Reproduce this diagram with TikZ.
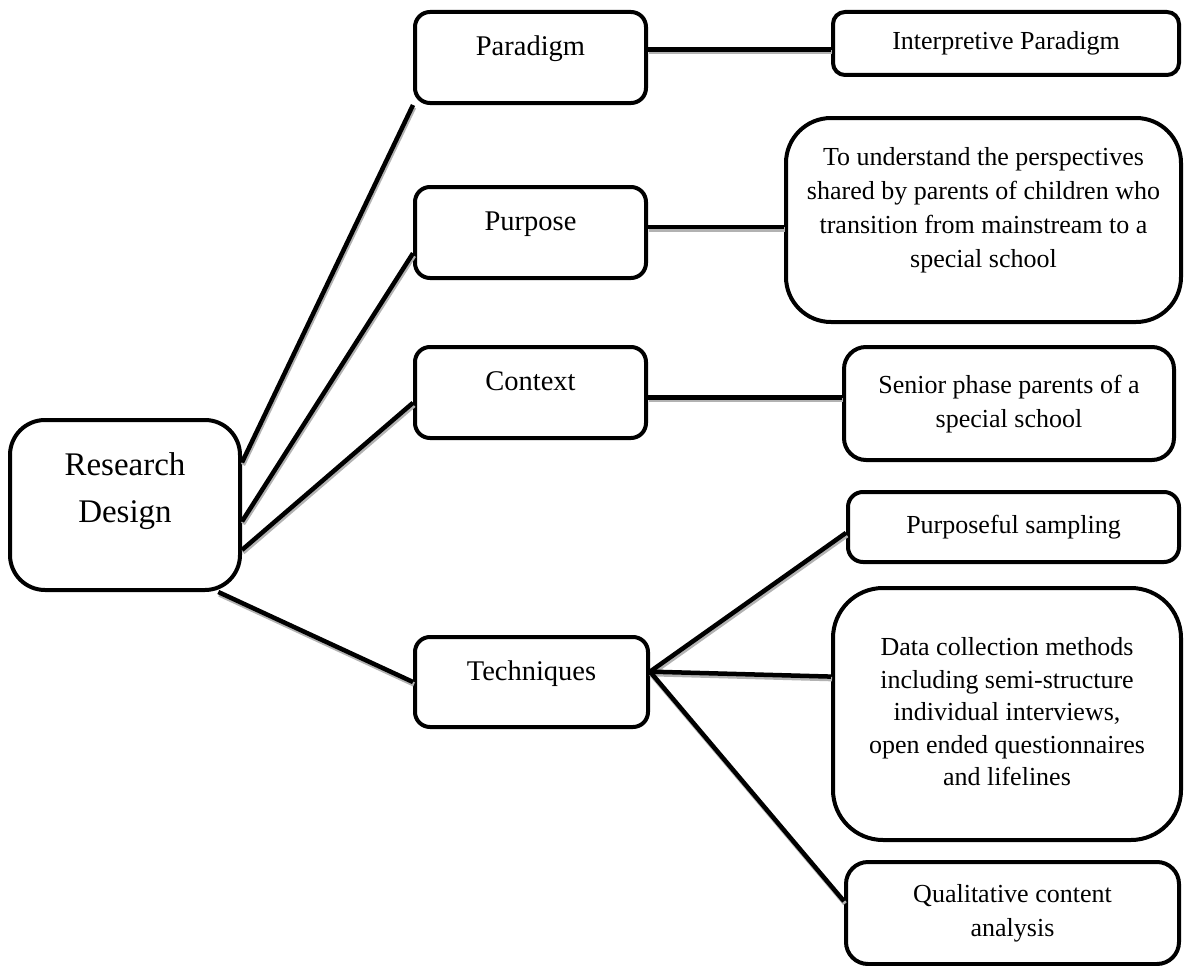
\documentclass[tikz,border=0pt]{standalone}
\usepackage{fontspec}
\setmainfont{Liberation Serif}
\newcommand{\boxlines}[1]{\begin{tabular}{@{}c@{}}#1\end{tabular}}
\tikzset{
  every node/.style={draw, line width=4pt, inner sep=0pt},
  topic/.style={rounded corners=15pt, minimum width=231pt, minimum height=91pt,
    text height=22pt, text depth=26pt, font=\fontsize{28.5}{36}\selectfont},
  detail/.style={font=\fontsize{26}{34}\selectfont},
  link/.style={line width=4.5pt, preaction={draw=black!30, line width=4.5pt, transform canvas={shift={(1pt,-2.5pt)}}}}
}
\begin{document}
\begin{tikzpicture}[x=1pt,y=-1pt]
	\useasboundingbox (0,0) rectangle (1184,966);
	\node[rounded corners=35pt, minimum width=230pt, minimum height=170pt, text height=55pt, text depth=72.5pt, font=\fontsize{33}{47}\selectfont] (design) at (125,505) {\boxlines{Research\\Design}};
	\node[topic] (paradigm) at (530.5,57.5) {Paradigm};
	\node[topic] (purpose) at (530.5,232.5) {Purpose};
	\node[topic] (context) at (530.5,392.5) {Context};
	\node[topic, minimum width=233pt, minimum height=90pt] (techniques) at (531.5,682) {Techniques};
	\node[detail, rounded corners=12pt, minimum width=346pt, minimum height=63pt] (interp) at (1006,43.5) {Interpretive Paradigm};
	\node[detail, rounded corners=45pt, minimum width=395pt, minimum height=204pt, text height=74.5pt, text depth=82.5pt] (aim) at (983.5,220) {\boxlines{To understand the perspectives\\shared by parents of children who\\transition from mainstream to a\\special school}};
	\node[detail, rounded corners=22pt, minimum width=330pt, minimum height=113pt] (senior) at (1009,403.5) {\boxlines{Senior phase parents of a\\special school}};
	\node[detail, rounded corners=15pt, minimum width=331pt, minimum height=70pt] (sampling) at (1013.5,527) {Purposeful sampling};
	\node[detail, font=\fontsize{26}{32.5}\selectfont, rounded corners=50pt, minimum width=348pt, minimum height=252pt] (methods) at (1007,714) {\boxlines{Data collection methods\\including semi-structure\\individual interviews,\\open ended questionnaires\\and lifelines}};
	\node[detail, rounded corners=22pt, minimum width=333pt, minimum height=102pt] (analysis) at (1012.5,913) {\boxlines{Qualitative content\\analysis}};
	\draw[link] (design.20) -- (paradigm.south west);
	\draw[link] (design.-8) -- (purpose.190);
	\draw[link] (design.-21) -- (context.185);
	\draw[link] (design.-43) -- (techniques.west);
	\draw[link] (paradigm.east |- interp.182) -- (interp.182);
	\draw[link] (purpose.east |- aim.182) -- (aim.182);
	\draw[link] (context.east |- senior.178) -- (senior.178);
	\draw[link] (techniques.5) -- (sampling.182);
	\draw[link] (techniques.5) -- (methods.168);
	\draw[link] (techniques.5) -- (analysis.176);
\end{tikzpicture}
\end{document}
